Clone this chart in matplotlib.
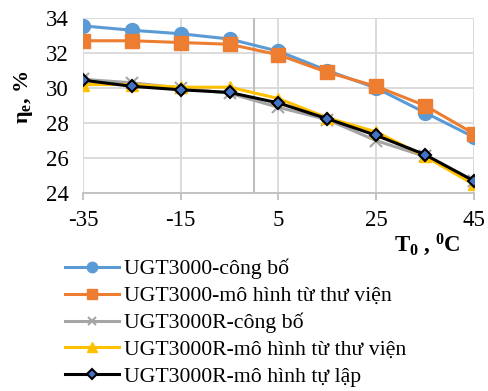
import matplotlib
matplotlib.use("Agg")
from matplotlib import pyplot as plt

plt.rcParams["font.family"] = ["Liberation Serif", "DejaVu Serif"]
plt.rcParams["mathtext.fontset"] = "custom"
plt.rcParams["mathtext.rm"] = "Liberation Serif"
plt.rcParams["mathtext.it"] = "Liberation Serif:italic"
plt.rcParams["mathtext.bf"] = "Liberation Serif:bold"
plt.rcParams["axes.unicode_minus"] = False

t0 = [-35, -25, -15, -5, 5, 15, 25, 35, 45]
ugt_cb = [33.55, 33.3, 33.1, 32.8, 32.1, 31.0, 30.0, 28.6, 27.2]
ugt_tv = [32.7, 32.7, 32.6, 32.5, 31.9, 30.9, 30.1, 29.0, 27.4]
ugtr_cb = [30.5, 30.3, 30.0, 29.7, 28.9, 28.2, 27.0, 26.1, 24.7]
ugtr_tv = [30.2, 30.2, 30.05, 30.05, 29.4, 28.3, 27.5, 26.1, 24.5]
ugtr_tl = [30.45, 30.1, 29.9, 29.75, 29.15, 28.25, 27.3, 26.2, 24.7]

labels = [
    "UGT3000-công bố",
    "UGT3000-mô hình từ thư viện",
    "UGT3000R-công bố",
    "UGT3000R-mô hình từ thư viện",
    "UGT3000R-mô hình tự lập",
]
xticks = [-35, -15, 5, 25, 45]
yticks = [24, 26, 28, 30, 32, 34]

fig = plt.figure(figsize=(4.88, 3.91), dpi=100)
ax = fig.add_axes([0.170, 0.506, 0.801, 0.448])

l1, = ax.plot(t0, ugt_cb, color="#5B9BD5", lw=2.2, marker="o", ms=10, zorder=3)
l2, = ax.plot(t0, ugt_tv, color="#ED7D31", lw=2.2, marker="s", ms=9.5, zorder=4)
l3, = ax.plot(t0, ugtr_cb, color="#A5A5A5", lw=2.2, marker="x", ms=8, mew=1.5, zorder=3)
l4, = ax.plot(t0, ugtr_tv, color="#FFC000", lw=2.2, marker="^", ms=9, zorder=4)
l5, = ax.plot(t0, ugtr_tl, color="#000000", lw=2.2, marker="D", ms=6.5,
              mfc="#4472C4", mec="#000000", mew=1.5, zorder=5)

ax.set_xlim(-35, 45)
ax.set_ylim(24, 34)
ax.set_xticks(xticks)
ax.set_yticks(yticks)
ax.grid(color="#D9D9D9", lw=1.3)
ax.set_axisbelow(True)
for s in ["top", "right", "left"]:
    ax.spines[s].set_visible(False)
ax.spines["bottom"].set_color("#BFBFBF")
ax.spines["bottom"].set_linewidth(1.3)
ax.axvline(0, color="#BFBFBF", lw=1.5, zorder=1)
ax.tick_params(axis="x", length=5, color="#BFBFBF", width=1.3, labelsize=16.5, pad=7)
ax.tick_params(axis="y", length=0, labelsize=16.5, pad=10)

fig.text(0.048, 0.752, r"$\mathbf{\eta_e}$, %", rotation=90, fontsize=16,
         fontweight="bold", ha="center", va="center")
fig.text(0.875, 0.375, r"$\mathbf{T_0}$ , $\mathbf{^0C}$", fontsize=16.5,
         fontweight="bold", ha="center", va="center")

fig.legend([l1, l2, l3, l4, l5], labels, loc="upper left",
           bbox_to_anchor=(0.133, 0.338), frameon=False, fontsize=15.7,
           handlelength=2.5, handletextpad=0.2, labelspacing=0.3,
           borderaxespad=0, borderpad=0, markerscale=0.75)

plt.savefig("out.png")
